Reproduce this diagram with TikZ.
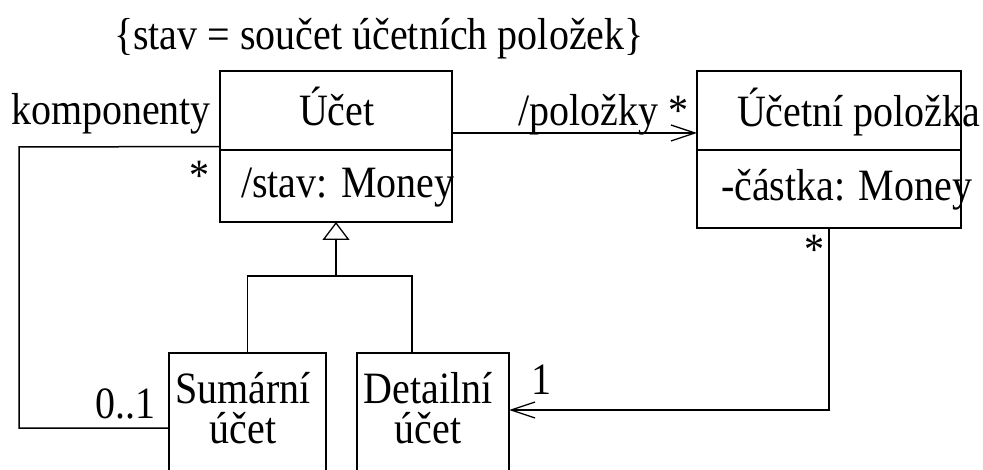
\documentclass[tikz,border=0pt]{standalone}
\usepackage{fontspec}
\setmainfont{Liberation Serif}
\usetikzlibrary{arrows.meta}
\newcommand\vtx[1]{\scalebox{1}[1.12]{#1}}
\begin{document}
\begin{tikzpicture}[x=1pt,y=-1pt,
  every node/.style={inner sep=0pt,outer sep=0pt},
  cls/.style={draw,line width=1.5pt,rectangle},
  lbl/.style={anchor=base west,font=\fontsize{40}{48}\selectfont},
  two/.style={anchor=base,align=center,font=\fontsize{40}{40}\selectfont},
  conn/.style={line width=1.5pt},
  nav/.style={conn,-{Straight Barb[length=24pt,width=16pt,line width=1.3pt]}},
  gen/.style={conn,-{Triangle[open,length=18pt,width=27pt,line width=1.3pt]}}]
\clip (0,0) rectangle (983,470);
\fill[white] (0,0) rectangle (983,470);
% class boxes
\node[cls,minimum width=232pt,minimum height=151pt] (ucet) at (336,146.5) {};
\node[cls,minimum width=264pt,minimum height=157pt] (pol) at (829,149.5) {};
\node[cls,minimum width=157pt,minimum height=150pt] (sum) at (247.5,428) {};
\node[cls,minimum width=152pt,minimum height=150pt] (det) at (433,428) {};
% compartments
\draw[conn] (ucet.west |- 0,150) -- (ucet.east |- 0,150);
\draw[conn] (pol.west |- 0,150) -- (pol.east |- 0,150);
% texts
\node[lbl] (t0) at (114,50) {\vtx{\{stav = součet účetních položek\}}};
\node[lbl] (t1) at (299,126) {\vtx{Účet}};
\node[lbl] (t2) at (241,198) {\vtx{/stav: Money}};
\node[lbl] (t3) at (737,127) {\vtx{Účetní položka}};
\node[lbl] (t4) at (721,201) {\vtx{-částka: Money}};
\node[two] (t5) at (243,443) {\vtx{Sumární}\\\vtx{účet}};
\node[two] (t7) at (428,443) {\vtx{Detailní}\\\vtx{účet}};
\node[lbl] (l1) at (11,125) {\vtx{komponenty}};
\node[lbl] (l2) at (189,191) {\vtx{*}};
\node[lbl] (l3) at (518,126) {\vtx{/položky *}};
\node[lbl] (l4) at (804,265) {\vtx{*}};
\node[lbl] (l5) at (95,418) {\vtx{0..1}};
\node[lbl] (l6) at (531,395) {\vtx{1}};
% connectors
\coordinate (k1) at (19,147);
\draw[conn] (ucet.west) -- (k1) |- (sum.west);
\draw[nav] ([yshift=13.5pt]ucet.east) -- ([yshift=16.5pt]pol.west);
\draw[nav] (pol.south) |- ([yshift=18pt]det.east);
\coordinate (g) at (336,276);
\draw[gen] (g) -- (ucet.south);
\draw[conn] (sum.north) |- (g) -| ([xshift=-21pt]det.north);
\end{tikzpicture}
\end{document}
